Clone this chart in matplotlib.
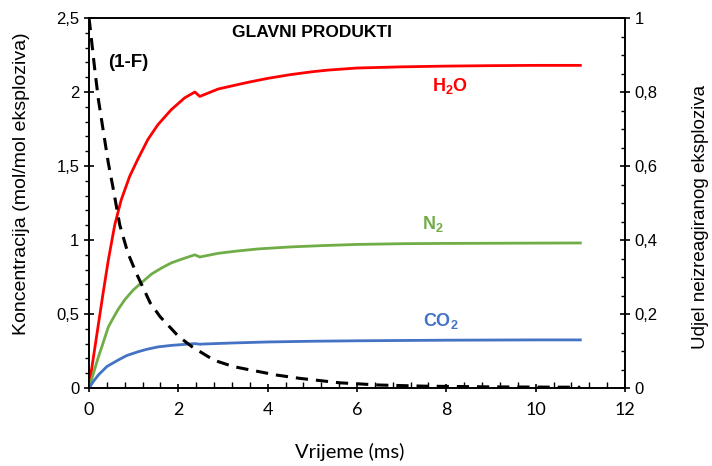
import numpy as np
import matplotlib
matplotlib.use("Agg")
import matplotlib.pyplot as plt
from matplotlib.ticker import MultipleLocator, FuncFormatter

plt.rcParams['font.family'] = ['Liberation Sans', 'DejaVu Sans']
plt.rcParams['mathtext.fontset'] = 'custom'
plt.rcParams['mathtext.bf'] = 'Liberation Sans:bold'
plt.rcParams['mathtext.rm'] = 'Liberation Sans'

# glavni produkti (mol/mol eksploziva), ocitano sa slike
t_h2o = [0, 0.06, 0.15, 0.27, 0.31, 0.43, 0.575, 0.72, 0.91, 1.1, 1.32, 1.545, 1.84,
         2.14, 2.37, 2.48, 2.89, 3.3, 3.6, 4.0, 4.5, 5.0, 5.35, 6.0, 7.0, 8.0, 9.0, 10.0, 11.0]
h2o = [0, 0.13, 0.31, 0.55, 0.63, 0.86, 1.10, 1.27, 1.43, 1.55, 1.68, 1.78, 1.88,
       1.96, 2.0, 1.97, 2.02, 2.048, 2.068, 2.092, 2.117, 2.137, 2.148, 2.162, 2.17, 2.175, 2.178, 2.18, 2.18]

t_n2 = [0, 0.1, 0.2, 0.3, 0.43, 0.5, 0.65, 0.81, 1.0, 1.17, 1.4, 1.62, 1.84, 2.07,
        2.37, 2.48, 2.89, 3.3, 3.8, 4.5, 5.2, 6.0, 7.0, 8.0, 9.0, 10.0, 11.0]
n2 = [0, 0.10, 0.20, 0.29, 0.41, 0.45, 0.53, 0.60, 0.665, 0.71, 0.77, 0.81, 0.845, 0.87,
      0.9, 0.885, 0.91, 0.925, 0.94, 0.953, 0.962, 0.97, 0.975, 0.977, 0.978, 0.979, 0.98]

t_co2 = [0, 0.1, 0.21, 0.4, 0.66, 0.85, 1.1, 1.3, 1.55, 1.85, 2.15, 2.37, 2.48,
         2.82, 3.3, 4.0, 5.0, 6.0, 7.0, 8.0, 9.0, 10.0, 11.0]
co2 = [0, 0.045, 0.088, 0.145, 0.19, 0.22, 0.245, 0.262, 0.278, 0.288, 0.295, 0.30, 0.296,
       0.30, 0.305, 0.311, 0.316, 0.319, 0.321, 0.323, 0.324, 0.325, 0.325]

# udjel neizreagiranog eksploziva (1-F)
t_f = [0, 0.02, 0.13, 0.21, 0.3, 0.43, 0.54, 0.69, 0.87, 1.06, 1.37, 1.59, 2.0, 2.3,
       2.8, 3.23, 3.6, 4.2, 4.72, 5.62, 6.5, 7.5, 9.0, 11.0]
one_minus_f = [1.0, 0.98, 0.86, 0.78, 0.71, 0.61, 0.54, 0.44, 0.365, 0.31, 0.23, 0.193, 0.14, 0.112,
               0.075, 0.058, 0.049, 0.035, 0.026, 0.014, 0.008, 0.005, 0.003, 0.002]

comma = FuncFormatter(lambda v, p: f"{v:g}".replace('.', ','))

fig = plt.figure(figsize=(7.12, 4.66), dpi=100)
ax = fig.add_axes([89 / 712, 78 / 466, 536 / 712, 370 / 466])
ax2 = ax.twinx()

ax.plot(t_h2o, h2o, color='#FF0000', lw=2.0, zorder=3)
ax.plot(t_n2, n2, color='#70AD47', lw=2.0, zorder=3)
ax.plot(t_co2, co2, color='#4472C4', lw=2.0, zorder=3)
ax2.plot(t_f, one_minus_f, color='black', lw=2.2, dashes=(4, 2.6))

ax.set_xlim(0, 12)
ax.set_ylim(0, 2.5)
ax2.set_ylim(0, 1)

ax.xaxis.set_major_locator(MultipleLocator(2))
ax.xaxis.set_minor_locator(MultipleLocator(0.4))
ax.yaxis.set_major_locator(MultipleLocator(0.5))
ax.yaxis.set_minor_locator(MultipleLocator(0.1))
ax2.yaxis.set_major_locator(MultipleLocator(0.2))
ax2.yaxis.set_minor_locator(MultipleLocator(0.05))
ax.yaxis.set_major_formatter(comma)
ax2.yaxis.set_major_formatter(comma)

for a in (ax, ax2):
    for s in a.spines.values():
        s.set_linewidth(1.2)
ax.tick_params(axis='x', which='major', direction='inout', length=6, width=1.2, labelsize=13, pad=7)
ax.tick_params(axis='x', which='minor', direction='in', length=4, width=1.0)
ax.tick_params(axis='y', which='major', direction='inout', length=7, width=1.2, labelsize=12)
ax.tick_params(axis='y', which='minor', direction='out', length=3, width=1.0)
ax2.tick_params(axis='y', which='major', direction='inout', length=7, width=1.2, labelsize=12)
ax2.tick_params(axis='y', which='minor', direction='in', length=3, width=1.0)
for lbl in ax.get_xticklabels():
    lbl.set_family(['Lato', 'DejaVu Sans'])

ax.set_xlabel('Vrijeme (ms)', fontsize=14.5, family=['Lato', 'DejaVu Sans'], va='center')
ax.set_ylabel('Koncentracija (mol/mol eksploziva)', fontsize=14, va='center')
ax2.set_ylabel('Udjel neizreagiranog eksploziva', fontsize=13.5, rotation=90, va='center')
ax.xaxis.set_label_coords(0.486, -0.173)
ax.yaxis.set_label_coords(-0.125, 0.551)
ax2.yaxis.set_label_coords(1.14, 0.462)

ax.text(5.0, 2.40, 'GLAVNI PRODUKTI', fontsize=12.5, fontweight='bold', ha='center', va='center')
ax.text(0.87, 2.20, '(1-F)', fontsize=13.5, fontweight='bold', ha='center', va='center')
ax.text(8.08, 2.04, r'$\mathbf{H_2O}$', fontsize=13, color='#FF0000', ha='center', va='center')
ax.text(7.7, 1.11, r'$\mathbf{N_2}$', fontsize=13, color='#70AD47', ha='center', va='center')
ax.text(7.88, 0.45, r'$\mathbf{CO_2}$', fontsize=13, color='#4472C4', ha='center', va='center')

fig.savefig('out.png', dpi=100)
